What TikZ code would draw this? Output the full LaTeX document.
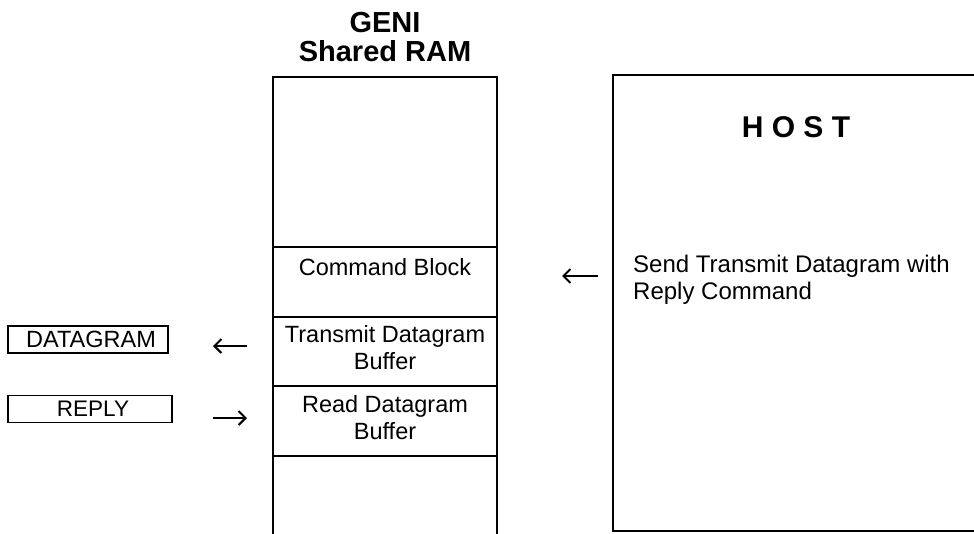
\documentclass[tikz,border=0pt]{standalone}
\usepackage{fontspec}
\setmainfont{Liberation Sans}
\usetikzlibrary{arrows.meta}
\tikzset{
  sec/.style={draw, line width=2.6pt, minimum width=224pt, inner sep=0pt, outer sep=0pt},
  lbl/.style={inner sep=0pt, font=\fontsize{23.5}{27}\selectfont, align=center},
  tag/.style={draw, line width=1.8pt, inner sep=0pt, minimum height=27pt, font=\fontsize{22}{26}\selectfont},
  arr/.style={line width=2pt, -{Straight Barb[length=7pt,width=14pt,line width=2pt]}}
}
\begin{document}
\begin{tikzpicture}[x=1pt,y=-1pt]
\useasboundingbox (0,0) rectangle (974,533);
\clip (0,0) rectangle (974,533);
% title
\node[inner sep=0pt, align=center, font=\fontsize{29}{29.5}\bfseries\selectfont] (title) at (385,37) {GENI\\Shared RAM};
% RAM sections
\node[sec, minimum height=170pt] (top) at (385,162) {};
\node[sec, minimum height=70pt] (cmd) at (385,282) {};
\node[sec, minimum height=69pt] (tx) at (385,351.5) {};
\node[sec, minimum height=70pt] (rx) at (385,421) {};
\node[sec, minimum height=100pt] (bot) at (385,506) {};
\node[lbl, anchor=base] (cmdt) at (385,275) {Command Block};
\node[lbl] (txt) at (385,348) {Transmit Datagram\\Buffer};
\node[lbl] (rxt) at (385,418) {Read Datagram\\Buffer};
% host
\node[draw, line width=2.6pt, minimum width=400pt, minimum height=456pt, inner sep=0pt, outer sep=0pt] (host) at (813,303) {};
\node[inner sep=0pt, anchor=base, font=\fontsize{30}{30}\bfseries\selectfont] (hostt) at (796,137) {H O S T};
\node[inner sep=0pt, anchor=west, align=left, font=\fontsize{24}{27}\selectfont] (send) at (633,280) {Send Transmit Datagram with\\Reply Command};
% tags
\node[tag, minimum width=160pt] (dg) at (88,339.5) {};
\node[inner sep=0pt, anchor=base, font=\fontsize{23.5}{26}\selectfont] (dgt) at (91,347) {DATAGRAM};
\node[tag, minimum width=164pt] (rp) at (90,409) {};
\node[inner sep=0pt, anchor=base, font=\fontsize{22.5}{26}\selectfont] (rpt) at (93,416) {REPLY};
% arrows
\coordinate (a1s) at (598,276); \coordinate (a1e) at (562,276);
\coordinate (a2s) at (247,346); \coordinate (a2e) at (213,346);
\coordinate (a3s) at (213,418); \coordinate (a3e) at (247,418);
\draw[arr] (a1s) -- (a1e);
\draw[arr] (a2s) -- (a2e);
\draw[arr] (a3s) -- (a3e);
\end{tikzpicture}
\end{document}
